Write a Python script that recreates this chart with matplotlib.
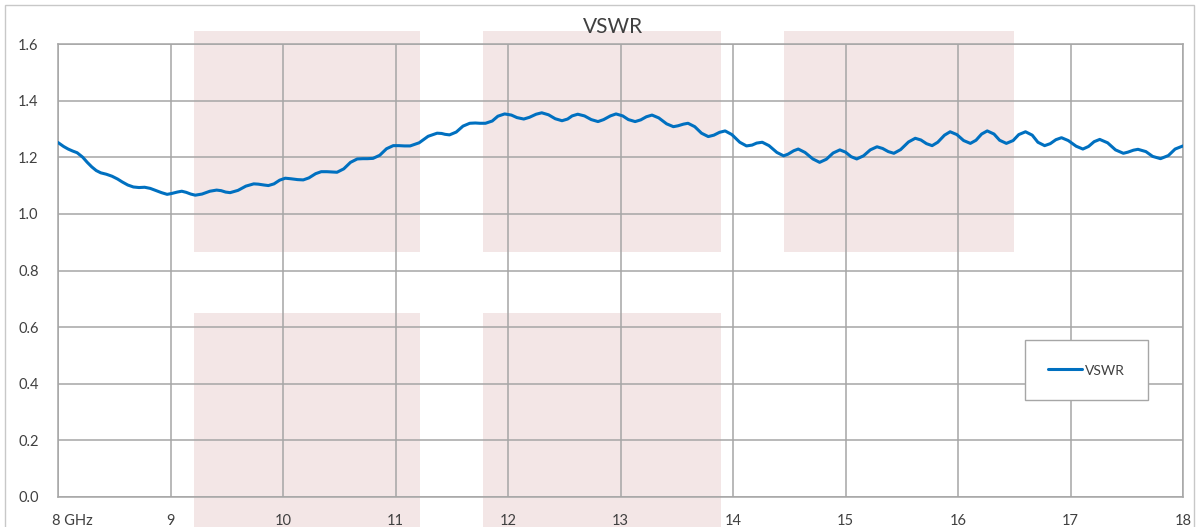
import matplotlib
matplotlib.use("Agg")
import matplotlib.pyplot as plt
from matplotlib.patches import Rectangle
from matplotlib.transforms import ScaledTranslation

plt.rcParams['font.family'] = ['Lato', 'DejaVu Sans']

title = "VSWR"
series_name = "VSWR"
x_ticks = [8, 9, 10, 11, 12, 13, 14, 15, 16, 17, 18]
x_tick_labels = ["8 GHz", "9", "10", "11", "12", "13", "14", "15", "16", "17", "18"]
y_ticks = [0.0, 0.2, 0.4, 0.6, 0.8, 1.0, 1.2, 1.4, 1.6]
y_tick_labels = ["0.0", "0.2", "0.4", "0.6", "0.8", "1.0", "1.2", "1.4", "1.6"]

freq_ghz = [
    8.00, 8.05, 8.09, 8.13, 8.17, 8.22, 8.26, 8.30, 8.34, 8.38, 8.43, 8.48, 8.53, 8.57,
    8.62, 8.67, 8.72, 8.77, 8.82, 8.86, 8.92, 8.97, 9.01, 9.06, 9.10, 9.14, 9.18, 9.22,
    9.28, 9.35, 9.41, 9.45, 9.49, 9.53, 9.60, 9.67, 9.74, 9.78, 9.83, 9.87, 9.92, 9.97,
    10.02, 10.07, 10.13, 10.18, 10.23, 10.29, 10.34, 10.39, 10.43, 10.48, 10.54, 10.60,
    10.66, 10.71, 10.75, 10.80, 10.86, 10.92, 10.98, 11.03, 11.08, 11.13, 11.21, 11.29,
    11.37, 11.41, 11.44, 11.48, 11.54, 11.60, 11.66, 11.71, 11.75, 11.80, 11.86, 11.91,
    11.97, 12.03, 12.08, 12.14, 12.19, 12.25, 12.30, 12.36, 12.42, 12.48, 12.53, 12.57,
    12.62, 12.68, 12.74, 12.80, 12.85, 12.91, 12.96, 13.02, 13.07, 13.13, 13.18, 13.23,
    13.28, 13.34, 13.41, 13.47, 13.51, 13.56, 13.60, 13.66, 13.72, 13.78, 13.83, 13.88,
    13.93, 13.99, 14.06, 14.12, 14.17, 14.21, 14.26, 14.32, 14.39, 14.45, 14.49, 14.54,
    14.58, 14.64, 14.71, 14.77, 14.83, 14.89, 14.95, 15.00, 15.05, 15.10, 15.16, 15.22,
    15.28, 15.33, 15.38, 15.43, 15.49, 15.56, 15.62, 15.67, 15.72, 15.77, 15.82, 15.88,
    15.93, 15.99, 16.05, 16.11, 16.16, 16.21, 16.26, 16.32, 16.37, 16.43, 16.49, 16.54,
    16.60, 16.66, 16.71, 16.77, 16.82, 16.87, 16.92, 16.98, 17.05, 17.11, 17.16, 17.21,
    17.26, 17.33, 17.40, 17.47, 17.51, 17.56, 17.60, 17.67, 17.73, 17.80, 17.87, 17.93,
    18.00,
]
vswr = [
    1.252, 1.238, 1.229, 1.222, 1.216, 1.200, 1.182, 1.166, 1.153, 1.145, 1.140, 1.133, 1.123, 1.113,
    1.102, 1.095, 1.093, 1.094, 1.090, 1.084, 1.075, 1.069, 1.072, 1.077, 1.080, 1.076, 1.070, 1.066,
    1.070, 1.080, 1.084, 1.082, 1.077, 1.075, 1.083, 1.098, 1.106, 1.105, 1.102, 1.100, 1.106, 1.119,
    1.126, 1.124, 1.121, 1.120, 1.127, 1.142, 1.149, 1.149, 1.148, 1.147, 1.159, 1.182,
    1.194, 1.195, 1.195, 1.196, 1.207, 1.230, 1.241, 1.241, 1.240, 1.240, 1.251, 1.274,
    1.285, 1.284, 1.281, 1.279, 1.289, 1.310, 1.320, 1.321, 1.320, 1.320, 1.328, 1.345,
    1.353, 1.349, 1.340, 1.335, 1.341, 1.352, 1.357, 1.350, 1.336, 1.329, 1.335, 1.346,
    1.352, 1.346, 1.333, 1.326, 1.333, 1.346, 1.353, 1.346, 1.333, 1.326, 1.332, 1.343,
    1.349, 1.339, 1.318, 1.308, 1.311, 1.317, 1.320, 1.308, 1.285, 1.273, 1.278, 1.288,
    1.293, 1.280, 1.253, 1.240, 1.243, 1.250, 1.253, 1.241, 1.217, 1.205, 1.211, 1.223,
    1.229, 1.217, 1.194, 1.182, 1.193, 1.215, 1.226, 1.218, 1.202, 1.194, 1.205, 1.226,
    1.237, 1.231, 1.220, 1.214, 1.227, 1.254, 1.267, 1.261, 1.248, 1.241, 1.253, 1.278,
    1.290, 1.280, 1.259, 1.249, 1.260, 1.282, 1.293, 1.282, 1.260, 1.249, 1.259, 1.280,
    1.290, 1.278, 1.253, 1.241, 1.248, 1.262, 1.269, 1.259, 1.239, 1.229, 1.238, 1.255,
    1.263, 1.251, 1.226, 1.214, 1.218, 1.225, 1.228, 1.220, 1.203, 1.195, 1.206, 1.229,
    1.240,
]

W, H = 1196, 527
fig = plt.figure(figsize=(W / 100, H / 100), dpi=100)
fig.patch.set_facecolor("white")

def fx(px):
    return px / W

def fy(py):
    return 1 - py / H

# decorative pink background blocks (figure pixel coords: x0, x1, ytop, ybottom)
pink_blocks = [
    (194, 420, 31, 252), (194, 420, 313, 540),
    (483, 721, 31, 252), (483, 721, 313, 540),
    (784, 1014, 31, 252),
]
for x0, x1, yt, yb in pink_blocks:
    fig.add_artist(Rectangle((fx(x0), fy(yb)), fx(x1) - fx(x0), fy(yt) - fy(yb),
                             transform=fig.transFigure, facecolor="#f3e6e6",
                             edgecolor="none", zorder=-5))

# outer chart border
fig.add_artist(Rectangle((fx(5), fy(540)), fx(1194) - fx(5), fy(5) - fy(540),
                         transform=fig.transFigure, facecolor="none",
                         edgecolor="#c8c8c8", linewidth=1.0, zorder=-4))

ax = fig.add_axes([fx(58), fy(497), fx(1183) - fx(58), fy(44) - fy(497)])
ax.set_facecolor("none")

grid_color = "#a6a6a6"
ax.plot(freq_ghz, vswr, color="#0070c0", linewidth=2.2, label=series_name,
        solid_joinstyle="round", solid_capstyle="round", zorder=3)

ax.set_xlim(8, 18)
ax.set_ylim(0, 1.6)
ax.set_xticks(x_ticks)
ax.set_xticklabels(x_tick_labels)
ax.set_yticks(y_ticks)
ax.set_yticklabels(y_tick_labels)
ax.grid(True, color=grid_color, linewidth=1.1)
ax.set_axisbelow(True)
for s in ax.spines.values():
    s.set_color(grid_color)
    s.set_linewidth(1.1)
ax.tick_params(axis="both", length=0, labelsize=10.5, labelcolor="#404040")
ax.tick_params(axis="y", pad=14)
ax.tick_params(axis="x", pad=12)

first = ax.get_xticklabels()[0]
first.set_horizontalalignment("left")
first.set_transform(first.get_transform() + ScaledTranslation(-6 / 100, 0, fig.dpi_scale_trans))

fig.text(fx(613), fy(27), title, ha="center", va="center", fontsize=15, color="#404040")

leg = ax.legend(loc="upper left", bbox_to_anchor=(fx(1025), fy(340)),
                bbox_transform=fig.transFigure, borderaxespad=0, fontsize=10,
                frameon=True, fancybox=False, borderpad=1.65, handlelength=2.45,
                handletextpad=0.2, handleheight=1.2)
leg.get_frame().set_edgecolor("#a6a6a6")
leg.get_frame().set_linewidth(1.0)
leg.get_frame().set_facecolor("white")
leg.get_frame().set_alpha(1)
for t in leg.get_texts():
    t.set_color("#404040")
leg.set_zorder(10)

fig.savefig("out.png", dpi=100)
